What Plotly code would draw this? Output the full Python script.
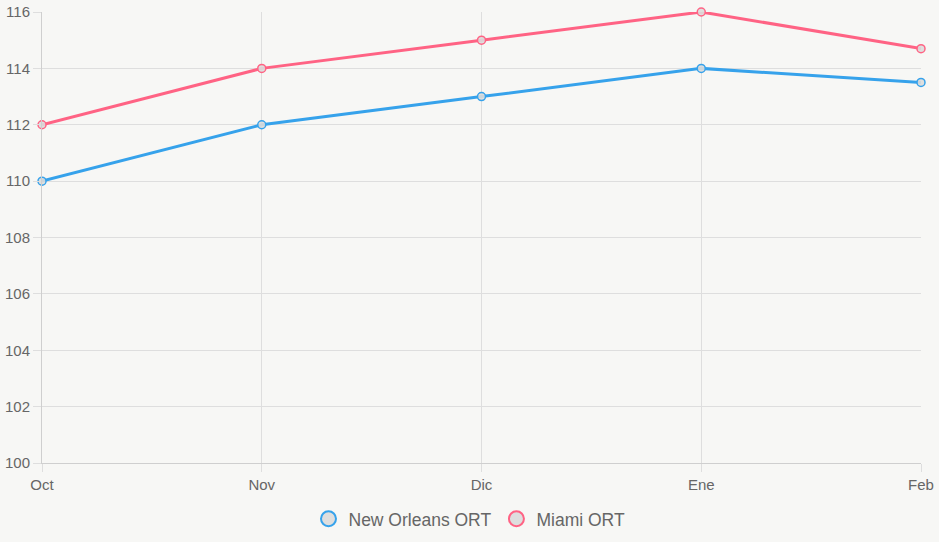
import plotly.graph_objects as go

months = ["Oct", "Nov", "Dic", "Ene", "Feb"]
new_orleans = [110, 112, 113, 114, 113.5]
miami = [112, 114, 115, 116, 114.7]
y_ticks = [100, 102, 104, 106, 108, 110, 112, 114, 116]

series = [
    ("New Orleans ORT", new_orleans, "rgb(54,162,235)"),
    ("Miami ORT", miami, "rgb(255,99,132)"),
]

fig = go.Figure()
for name, vals, col in series:
    fig.add_trace(go.Scatter(
        x=months, y=vals, mode="lines+markers", name=name, showlegend=False,
        line=dict(color=col, width=3),
        marker=dict(size=8, color="rgba(220,220,220,0.9)", line=dict(color=col, width=1.5)),
        hoverinfo="x+y", cliponaxis=False,
    ))
for name, vals, col in series:
    fig.add_trace(go.Scatter(
        x=[None], y=[None], mode="markers", name=name,
        marker=dict(size=15, color="rgb(222,222,222)", line=dict(color=col, width=2)),
    ))

grid = "#dedede"
fig.update_layout(
    width=939, height=542,
    paper_bgcolor="#f7f7f5", plot_bgcolor="#f7f7f5",
    margin=dict(l=42, r=18, t=12, b=79, autoexpand=False),
    font=dict(family="Liberation Sans, Arial, sans-serif", color="#666666", size=15),
    legend=dict(orientation="h", x=0.5, xref="container", xanchor="center", y=-0.084, yanchor="top",
                font=dict(size=17.5, color="#666666"), itemwidth=30),
    xaxis=dict(
        type="category", range=[0, 4], showgrid=True, gridcolor=grid, gridwidth=1,
        showline=True, linecolor="#cfcfcf", ticks="outside", ticklen=8, tickcolor=grid,
        zeroline=False, tickfont=dict(size=15), automargin=False,
    ),
    yaxis=dict(
        range=[100, 116], tickvals=y_ticks, showgrid=True, gridcolor=grid, gridwidth=1,
        showline=True, linecolor="#cfcfcf", ticks="outside", ticklen=8, tickcolor=grid,
        zeroline=False, tickfont=dict(size=15), automargin=False,
    ),
)
fig.write_html("out.html")
